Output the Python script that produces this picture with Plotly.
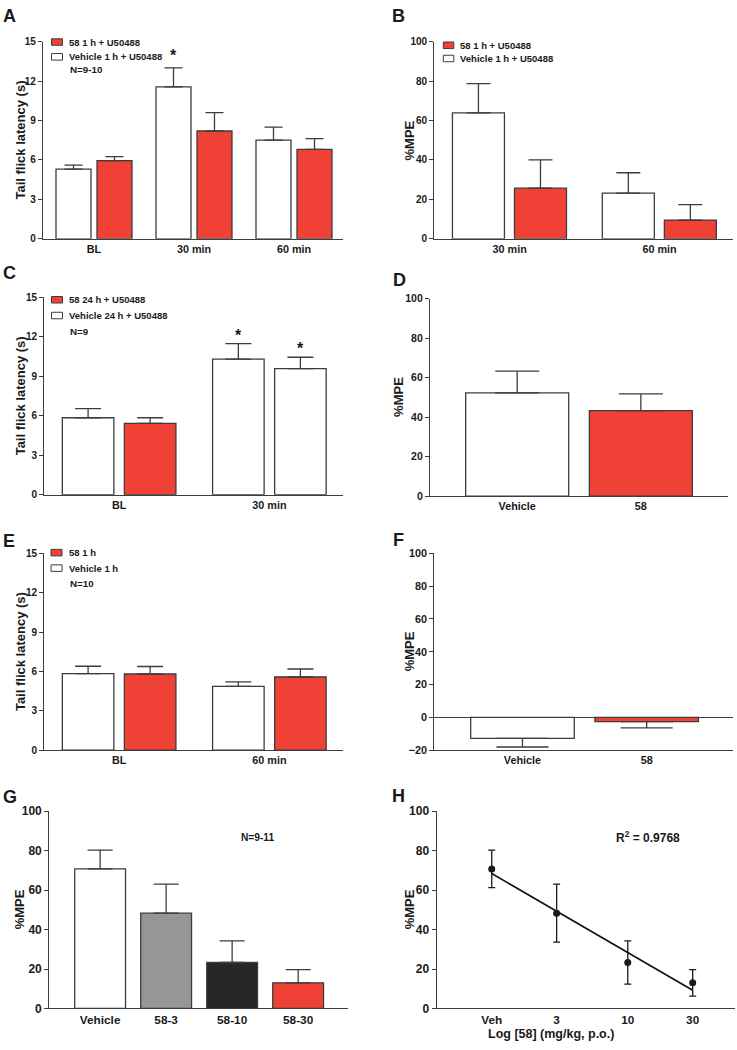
import numpy as np
import plotly.graph_objects as go

W, H = 737, 1050

# ---------------- data ----------------
a_cats = ["BL", "30 min", "60 min"]
a_vehicle = [5.3, 11.55, 7.5]
a_vehicle_sem = [0.3, 1.45, 1.0]
a_58 = [5.95, 8.2, 6.8]
a_58_sem = [0.3, 1.4, 0.82]

b_cats = ["30 min", "60 min"]
b_vehicle = [63.8, 23.2]
b_vehicle_sem = [14.9, 10.3]
b_58 = [25.7, 9.5]
b_58_sem = [14.3, 7.8]

c_cats = ["BL", "30 min"]
c_vehicle = [5.85, 10.3]
c_vehicle_sem = [0.7, 1.18]
c_58 = [5.43, 9.58]
c_58_sem = [0.42, 0.87]

d_cats = ["Vehicle", "58"]
d_vals = [52.3, 43.3]
d_sem = [11.0, 8.5]

e_cats = ["BL", "60 min"]
e_vehicle = [5.83, 4.86]
e_vehicle_sem = [0.57, 0.35]
e_58 = [5.81, 5.58]
e_58_sem = [0.57, 0.61]

f_cats = ["Vehicle", "58"]
f_vals = [-12.8, -2.6]
f_sem = [5.2, 3.8]

g_cats = ["Vehicle", "58-3", "58-10", "58-30"]
g_vals = [70.7, 48.3, 23.3, 13.0]
g_sem = [9.5, 14.7, 11.0, 6.7]

h_dose = [1, 3, 10, 30]
h_ticktext = ["Veh", "3", "10", "30"]
h_vals = g_vals
h_sem = g_sem

# ---------------- style ----------------
FONT = "Arial, 'Liberation Sans', Helvetica, sans-serif"
TXT = "#1a1a1a"
EDGE = "#3d3d3d"
RED = "#ef4136"
WHITE = "#ffffff"
GRAY = "#969696"
DARK = "#262626"
g_colors = [WHITE, GRAY, DARK, RED]


def px_x(x0, x1):
    return [x0 / W, x1 / W]


def px_y(y_top, y_bot):
    return [1 - y_bot / H, 1 - y_top / H]


fig = go.Figure()
annotations = []
shapes = []


def bold(size):
    return dict(family=FONT, size=size, color=TXT, weight="bold")


def setup_axes(idx, xpx, ypx, xrange, yrange, dtick, ytitle, title_x,
               xtype="category", zeroline=False, yfs=10.5, xfs=10.8):
    xs = "xaxis" if idx == 1 else f"xaxis{idx}"
    ys = "yaxis" if idx == 1 else f"yaxis{idx}"
    xa = "x" if idx == 1 else f"x{idx}"
    ya = "y" if idx == 1 else f"y{idx}"
    fig.layout[xs] = dict(
        domain=px_x(*xpx), anchor=ya, type=xtype, range=xrange,
        showline=True, linecolor=EDGE, linewidth=1.3, ticks="",
        showgrid=False, zeroline=False, tickfont=bold(xfs),
    )
    fig.layout[ys] = dict(
        domain=px_y(*ypx), anchor=xa, range=yrange, dtick=dtick, tick0=0,
        showline=True, linecolor=EDGE, linewidth=1.3,
        ticks="outside", ticklen=4, tickwidth=1.2, tickcolor=EDGE,
        showgrid=False, zeroline=zeroline, zerolinecolor=EDGE, zerolinewidth=1.3,
        tickfont=bold(yfs),
    )
    # y-axis title
    annotations.append(dict(xref="paper", yref="paper", x=title_x / W,
                            y=1 - (ypx[0] + ypx[1]) / 2 / H, text=ytitle,
                            textangle=-90, showarrow=False, xanchor="center",
                            yanchor="middle", font=bold(13)))
    return xa, ya


def add_bar(xa, ya, cats, vals, sem, colors, width, offset, capw, down=False):
    n = len(vals)
    if down:
        err = dict(type="data", array=[0] * n, arrayminus=sem, symmetric=False)
    else:
        err = dict(type="data", array=sem, arrayminus=[0] * n, symmetric=False)
    err.update(color=EDGE, thickness=1.3, width=capw)
    fig.add_trace(go.Bar(
        x=cats, y=vals, xaxis=xa, yaxis=ya, width=width, offset=offset,
        marker=dict(color=colors, line=dict(color=EDGE, width=1.3)),
        error_y=err, showlegend=False,
    ))


def legend_item(xs0, xs1, yc, color, text, tx):
    shapes.append(dict(type="rect", xref="paper", yref="paper",
                       x0=xs0 / W, x1=xs1 / W,
                       y0=1 - (yc + 3.3) / H, y1=1 - (yc - 3.3) / H,
                       fillcolor=color, line=dict(color=EDGE, width=1)))
    annotations.append(dict(xref="paper", yref="paper", x=tx / W, y=1 - yc / H,
                            xanchor="left", yanchor="middle", showarrow=False,
                            text=text, font=bold(9.5)))


def paper_text(x, y, text, size, xanchor="left"):
    annotations.append(dict(xref="paper", yref="paper", x=x / W, y=1 - y / H,
                            xanchor=xanchor, yanchor="middle", showarrow=False,
                            text=text, font=bold(size)))


def star(xa, ya, x, y):
    annotations.append(dict(xref=xa, yref=ya, x=x, y=y, text="*",
                            showarrow=False, yanchor="middle", font=bold(16)))


# ---------------- Panel A ----------------
xa, ya = setup_axes(1, (43, 343), (35, 235), [-0.51, 2.49], [0, 15], 3,
                    "Tail flick latency (s)", 20.3, yfs=10)
add_bar(xa, ya, a_cats, a_vehicle, a_vehicle_sem, WHITE, 0.35, -0.38, 9)
add_bar(xa, ya, a_cats, a_58, a_58_sem, RED, 0.35, 0.03, 9)
star(xa, ya, 1 - 0.205, 13.95)
legend_item(51.5, 62.5, 35.5, RED, "58 1 h + U50488", 67)
legend_item(51.5, 62.5, 50.5, WHITE, "Vehicle 1 h + U50488", 67)
paper_text(67.5, 63.5, "N=9-10", 9.8)

# ---------------- Panel B ----------------
xa, ya = setup_axes(2, (434.3, 733), (35, 235), [-0.503, 1.49], [0, 100], 20,
                    "%MPE", 409.3, yfs=10)
add_bar(xa, ya, b_cats, b_vehicle, b_vehicle_sem, WHITE, 0.347, -0.382, 12)
add_bar(xa, ya, b_cats, b_58, b_58_sem, RED, 0.347, 0.032, 12)
legend_item(443.3, 453.8, 38.8, RED, "58 1 h + U50488", 458)
legend_item(443.3, 453.8, 52.2, WHITE, "Vehicle 1 h + U50488", 458)

# ---------------- Panel C ----------------
xa, ya = setup_axes(3, (44.3, 343), (294.3, 494.3), [-0.498, 1.49], [0, 15], 3,
                    "Tail flick latency (s)", 20.3, yfs=10)
add_bar(xa, ya, c_cats, c_vehicle, c_vehicle_sem, WHITE, 0.343, -0.378, 13)
add_bar(xa, ya, c_cats, c_58, c_58_sem, [RED, WHITE], 0.343, 0.035, 13)
star(xa, ya, 1 - 0.207, 12.1)
star(xa, ya, 1 + 0.207, 11.1)
legend_item(51.5, 62.5, 296.7, RED, "58 24 h + U50488", 67)
legend_item(51.5, 62.5, 312.7, WHITE, "Vehicle 24 h + U50488", 67)
paper_text(67.5, 329.3, "N=9", 9.8)

# ---------------- Panel D ----------------
xa, ya = setup_axes(4, (430, 728.3), (295.7, 495.7), [-0.705, 1.707], [0, 100], 20,
                    "%MPE", 398.5, yfs=10.5)
add_bar(xa, ya, d_cats, d_vals, d_sem, [WHITE, RED], 0.833, -0.4165, 22)

# ---------------- Panel E ----------------
xa, ya = setup_axes(5, (44.3, 343), (553.7, 753.3), [-0.498, 1.49], [0, 15], 3,
                    "Tail flick latency (s)", 20.3, yfs=10)
add_bar(xa, ya, e_cats, e_vehicle, e_vehicle_sem, WHITE, 0.343, -0.378, 13)
add_bar(xa, ya, e_cats, e_58, e_58_sem, RED, 0.343, 0.035, 13)
legend_item(51, 62, 553, RED, "58 1 h", 67)
legend_item(51, 62, 568.7, WHITE, "Vehicle 1 h", 67)
paper_text(67.5, 584, "N=10", 9.8)

# ---------------- Panel F ----------------
xa, ya = setup_axes(6, (434.3, 733), (553.7, 753.3), [-0.71, 1.695], [-20, 100], 20,
                    "%MPE", 409.5, zeroline=True, yfs=10.8)
add_bar(xa, ya, f_cats, f_vals, f_sem, [WHITE, RED], 0.834, -0.417, 26, down=True)

# ---------------- Panel G ----------------
xa, ya = setup_axes(7, (49.3, 348.3), (815, 1015), [-0.77, 3.76], [0, 100], 20,
                    "%MPE", 19.5, yfs=12, xfs=11.8)
add_bar(xa, ya, g_cats, g_vals, g_sem, g_colors, 0.77, -0.385, 12.5)
paper_text(257, 841.7, "N=9-11", 10.2, xanchor="center")

# ---------------- Panel H ----------------
xa, ya = setup_axes(8, (436.7, 735), (815, 1015),
                    [np.log10(0.394), np.log10(61.4)], [0, 100], 20,
                    "%MPE", 409.5, xtype="log", yfs=12, xfs=11.8)
fig.layout["xaxis8"].update(tickvals=h_dose, ticktext=h_ticktext)
logx = np.log10(h_dose)
slope, intercept = np.polyfit(logx, h_vals, 1)
fit_x = [h_dose[0], h_dose[-1]]
fit_y = [intercept + slope * np.log10(v) for v in fit_x]
fig.add_trace(go.Scatter(x=fit_x, y=fit_y, xaxis=xa, yaxis=ya, mode="lines",
                         line=dict(color="#111111", width=1.6), showlegend=False))
fig.add_trace(go.Scatter(x=h_dose, y=h_vals, xaxis=xa, yaxis=ya, mode="markers",
                         marker=dict(color="#1a1a1a", size=7),
                         error_y=dict(type="data", array=h_sem, color="#1a1a1a",
                                      thickness=1.3, width=3.5),
                         showlegend=False))
paper_text(550.5, 1040.5, "Log [58] (mg/kg, p.o.)", 12.5, xanchor="center")
paper_text(648, 841.7, "R<sup>2</sup> = 0.9768", 12, xanchor="center")

# ---------------- panel letters ----------------
for letter, lx, ly in [("A", 1, 9), ("B", 390, 9), ("C", 1, 270), ("D", 391, 276.7),
                       ("E", 1, 540.8), ("F", 391, 540), ("G", 1, 800.8), ("H", 390, 800)]:
    paper_text(lx, ly, letter, 18)

fig.update_layout(
    width=W, height=H, margin=dict(l=0, r=0, t=0, b=0),
    paper_bgcolor="white", plot_bgcolor="white", barmode="overlay",
    font=dict(family=FONT, color=TXT),
    annotations=annotations, shapes=shapes, showlegend=False,
)

fig.write_html("out.html", config={"displayModeBar": False},
               post_script="document.body.style.margin='0px';")
